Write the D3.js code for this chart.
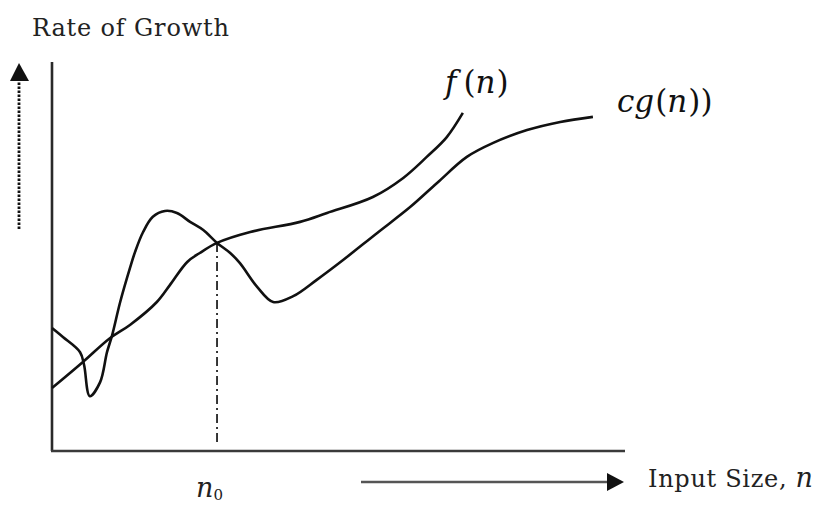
<!DOCTYPE html>
<html><head><meta charset="utf-8">
<script src="https://cdn.jsdelivr.net/npm/d3@7"></script>
<style>html,body{margin:0;padding:0;background:#fff;}svg{display:block;}</style>
</head><body>
<svg id="chart" width="815" height="507"></svg>
<script>
// ---- data (arbitrary units 0..100) ----
const fnX  = [0, 5.4, 10.1, 13.6, 18.3, 20.6, 23.6, 25.8, 28.8, 34.6, 43.3, 48.0, 56.0, 61.3, 65.4, 68.9, 71.7];
const fnY  = [16.2, 22.9, 29.0, 32.4, 38.3, 42.7, 48.6, 50.9, 53.5, 56.3, 58.9, 61.2, 65.3, 70.2, 75.6, 80.7, 86.9];
const cgX  = [0, 1.9, 4.9, 5.6, 6.6, 8.4, 9.6, 10.5, 11.9, 13.6, 14.5, 15.9, 17.6, 19.7, 21.8, 24.1, 26.4, 28.8, 31.1, 32.8, 35.8, 38.6, 42.1, 46.2, 50.8, 56.7, 62.5, 67.2, 72.4, 77.0, 82.9, 88.7, 94.4];
const cgY  = [31.6, 29.3, 25.4, 22.1, 14.1, 17.7, 25.4, 29.8, 38.3, 47.0, 51.2, 56.3, 60.2, 61.7, 61.2, 58.9, 56.8, 53.5, 50.9, 48.3, 42.2, 38.3, 39.8, 44.0, 49.1, 56.0, 62.7, 68.9, 75.6, 79.2, 82.5, 84.6, 85.9];
const n0   = [28.8, 53.5];
const labels = {yTitle: "Rate of Growth", xTitle: "Input Size, ", xVar: "n", n0: "n", n0sub: "0"};

const svg = d3.select("#chart");
const x = d3.scaleLinear().domain([0, 100]).range([52, 625]);
const y = d3.scaleLinear().domain([0, 100]).range([451, 62]);

// axes
svg.append("line").attr("x1", x(0)).attr("x2", x(0)).attr("y1", y(100)).attr("y2", y(0))
  .attr("stroke", "#2a2a2a").attr("stroke-width", 2.6);
svg.append("line").attr("x1", x(0) - 1).attr("x2", x(100)).attr("y1", y(0)).attr("y2", y(0))
  .attr("stroke", "#3a3a3a").attr("stroke-width", 2.6);

// n0 dash-dot line
svg.append("line").attr("x1", x(n0[0])).attr("x2", x(n0[0])).attr("y1", y(n0[1])).attr("y2", y(1.5))
  .attr("stroke", "#222").attr("stroke-width", 1.8).attr("stroke-dasharray", "9,4,2,4");

// curves
const line = d3.line().x(d => x(d[0])).y(d => y(d[1])).curve(d3.curveCatmullRom.alpha(0.5));
svg.append("path").datum(fnX.map((v, i) => [v, fnY[i]])).attr("d", line)
  .attr("fill", "none").attr("stroke", "#111").attr("stroke-width", 2.6).attr("stroke-linejoin", "round");
svg.append("path").datum(cgX.map((v, i) => [v, cgY[i]])).attr("d", line)
  .attr("fill", "none").attr("stroke", "#111").attr("stroke-width", 2.6).attr("stroke-linejoin", "round");

// dotted vertical arrow (left)
svg.append("line").attr("x1", 19).attr("x2", 19).attr("y1", 229).attr("y2", 78)
  .attr("stroke", "#111").attr("stroke-width", 2.8).attr("stroke-dasharray", "2.5,1.5");
svg.append("path").attr("d", "M19,63 L29,81 L10,81 Z").attr("fill", "#111");

// bottom arrow
svg.append("line").attr("x1", 361).attr("x2", 610).attr("y1", 482).attr("y2", 482)
  .attr("stroke", "#555").attr("stroke-width", 2.6);
svg.append("path").attr("d", "M624,482 L607,473 L607,491 Z").attr("fill", "#111");

// texts
const serif = "'DejaVu Serif', serif";
svg.append("text").attr("x", 32).attr("y", 36).attr("font-family", serif).attr("font-size", 24)
  .attr("fill", "#222").attr("textLength", 197).attr("lengthAdjust", "spacing").text(labels.yTitle);

const xt = svg.append("text").attr("x", 648).attr("y", 487).attr("font-family", serif)
  .attr("font-size", 24).attr("fill", "#222").attr("textLength", 165).attr("lengthAdjust", "spacing");
xt.append("tspan").text(labels.xTitle);
xt.append("tspan").attr("font-style", "italic").attr("font-size", 27).text(labels.xVar);

const n0t = svg.append("text").attr("x", 196).attr("y", 497).attr("font-family", serif)
  .attr("font-size", 27).attr("fill", "#222");
n0t.append("tspan").attr("font-style", "italic").text(labels.n0);
n0t.append("tspan").attr("font-size", 15).attr("dy", 3).text(labels.n0sub);

const ft = svg.append("text").attr("x", 445).attr("y", 93).attr("font-family", serif).attr("font-size", 31)
  .attr("fill", "#111");
ft.append("tspan").attr("font-style", "italic").text("f");
ft.append("tspan").attr("dx", 7).text("(");
ft.append("tspan").attr("font-style", "italic").text("n");
ft.append("tspan").attr("dx", 1).text(")");

const gt = svg.append("text").attr("x", 617).attr("y", 112).attr("font-family", serif).attr("font-size", 31)
  .attr("fill", "#111");
gt.append("tspan").attr("font-style", "italic").text("cg");
gt.append("tspan").attr("dx", 1).text("(");
gt.append("tspan").attr("font-style", "italic").text("n");
gt.append("tspan").attr("dx", 1).text("))");
</script>
</body></html>
